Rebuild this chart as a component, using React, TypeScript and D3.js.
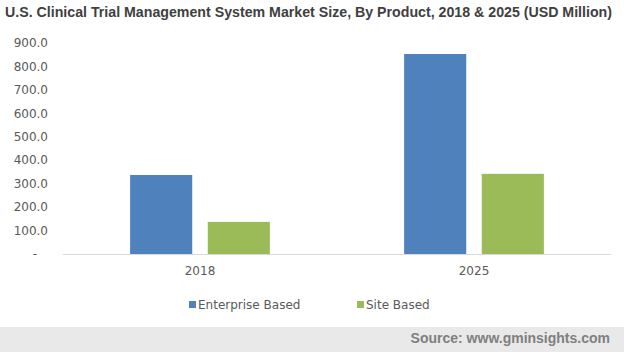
import * as d3 from "d3";

const years = ["2018", "2025"];
const series = ["Enterprise Based", "Site Based"];
const enterpriseValues = [337, 853];
const siteValues = [137, 342];
const yTicks = [0, 100, 200, 300, 400, 500, 600, 700, 800, 900];
const colors = ["#4f81bd", "#9bbb59"];

const W = 624;
const H = 352;
const margin = { top: 43, right: 13, bottom: 98, left: 63 };

export default function App() {
  const values = [enterpriseValues, siteValues];

  const x = d3
    .scaleBand<string>()
    .domain(years)
    .range([margin.left, W - margin.right])
    .paddingInner(0.49)
    .paddingOuter(0.245);

  const xInner = d3
    .scaleBand<string>()
    .domain(series)
    .range([0, x.bandwidth()])
    .paddingInner(0.2);

  const y = d3
    .scaleLinear()
    .domain([0, 900])
    .range([H - margin.bottom, margin.top]);

  const fmt = (v: number) => (v === 0 ? "-" : d3.format(".1f")(v));
  const font = "'DejaVu Sans', Verdana, sans-serif";

  return (
    <svg
      width={W}
      height={H}
      style={{ position: "absolute", left: 0, top: 0, background: "#fff" }}
    >
      <text
        x={5}
        y={17}
        fontFamily="'Liberation Sans', Arial, sans-serif"
        fontWeight="bold"
        fontSize={14.5}
        textLength={607}
        lengthAdjust="spacingAndGlyphs"
        fill="#404040"
      >
        U.S. Clinical Trial Management System Market Size, By Product, 2018 &amp; 2025 (USD Million)
      </text>

      {yTicks.map((t) => (
        <text
          key={t}
          x={t === 0 ? 37 : 48}
          y={y(t)}
          dy="0.35em"
          textAnchor="end"
          fontFamily={font}
          fontSize={12}
          fill="#595959"
        >
          {fmt(t)}
        </text>
      ))}

      {years.map((yr, i) => (
        <g key={yr} transform={`translate(${x(yr)},0)`}>
          {series.map((s, j) => (
            <rect
              key={s}
              x={xInner(s)}
              y={y(values[j][i])}
              width={xInner.bandwidth()}
              height={y(0) - y(values[j][i])}
              fill={colors[j]}
            />
          ))}
          <text
            x={x.bandwidth() / 2}
            y={y(0) + 21}
            textAnchor="middle"
            fontFamily={font}
            fontSize={12}
            fill="#595959"
          >
            {yr}
          </text>
        </g>
      ))}

      <line
        x1={margin.left}
        x2={W - margin.right}
        y1={y(0) + 0.5}
        y2={y(0) + 0.5}
        stroke="#d9d9d9"
      />

      {series.map((s, j) => {
        const lx = j === 0 ? 189 : 357;
        return (
          <g key={s}>
            <rect x={lx} y={301} width={7} height={7} fill={colors[j]} />
            <text
              x={lx + 9}
              y={309}
              fontFamily={font}
              fontSize={12}
              fill="#595959"
            >
              {s}
            </text>
          </g>
        );
      })}

      <rect x={0} y={327} width={W} height={H - 327} fill="#e9e9e9" />
      <text
        x={610}
        y={343}
        textAnchor="end"
        fontFamily="'Liberation Sans', Arial, sans-serif"
        fontWeight="bold"
        fontSize={14}
        fill="#7f7f7f"
      >
        Source: www.gminsights.com
      </text>
    </svg>
  );
}
